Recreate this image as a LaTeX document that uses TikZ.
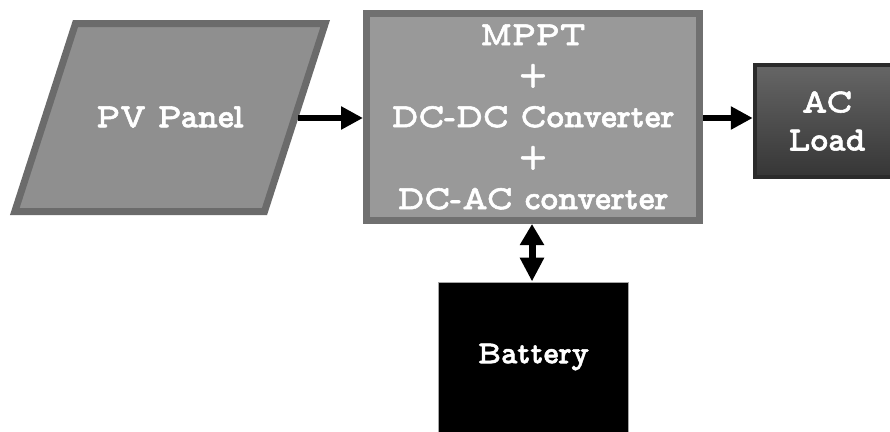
\documentclass[tikz,border=0pt]{standalone}
\usepackage{fontspec}
\usetikzlibrary{arrows.meta}

% proportional typewriter face (Latin Modern Mono Prop), emboldened
\newfontfamily\twfam{lmmonoproplt10-bold}[Extension=.otf, FakeBold=1.6]
\newcommand{\twfont}[2]{\twfam\fontsize{#1}{#2}\selectfont}

\definecolor{pvfill}{gray}{0.56}
\definecolor{pvedge}{gray}{0.42}
\definecolor{ctlfill}{gray}{0.60}
\definecolor{ctledge}{gray}{0.44}
\definecolor{loadedge}{gray}{0.17}

\tikzset{
  label text/.style={text=white, align=center, inner sep=0pt},
  flow/.style={line width=6.5pt, -{Triangle[length=22pt,width=22pt]}},
  biflow/.style={line width=7pt, {Triangle[length=21pt,width=23pt]}-{Triangle[length=24pt,width=23pt]}},
}

\begin{document}
\begin{tikzpicture}[x=1pt, y=-1pt]
  \useasboundingbox (0,0) rectangle (890,431);
  \clip (0,0) rectangle (890,431);

  % PV panel (parallelogram)
  \coordinate (p1) at (75.5,23.5);
  \coordinate (p2) at (325.2,23.5);
  \coordinate (p3) at (264.5,211.5);
  \coordinate (p4) at (14.8,211.5);
  \filldraw[fill=pvfill, draw=pvedge, line width=7pt, line join=miter]
    (p1) -- (p2) -- (p3) -- (p4) -- cycle;
  \node[label text, font=\twfont{34}{41}] (pv) at (170,117) {PV Panel};
  \coordinate (pvout) at (298,118);

  % MPPT / converter block
  \node[draw=ctledge, fill=ctlfill, line width=7pt,
        minimum width=333pt, minimum height=207pt,
        label text, font=\twfont{34}{41}] (ctl) at (533,117)
    {MPPT\\+\\DC-DC Converter\\+\\DC-AC converter};

  % AC load
  \node[draw=loadedge, line width=4.5pt, top color=black!60, bottom color=black!79,
        minimum width=144pt, minimum height=112pt,
        label text, font=\twfont{34}{38}] (load) at (827,121) {AC\\Load};

  % battery
  \node[draw=gray!70, fill=black, line width=1pt,
        minimum width=190pt, minimum height=150pt,
        label text, font=\twfont{32}{36}] (bat) at (533.5,357) {Battery};

  % connectors
  \coordinate (bx) at (532,0);
  \draw[flow] (pvout) -- (ctl.west |- pvout);
  \draw[flow] (ctl.east |- pvout) -- (load.west |- pvout);
  \draw[biflow] (ctl.south -| bx) -- (bat.north -| bx);
\end{tikzpicture}
\end{document}
